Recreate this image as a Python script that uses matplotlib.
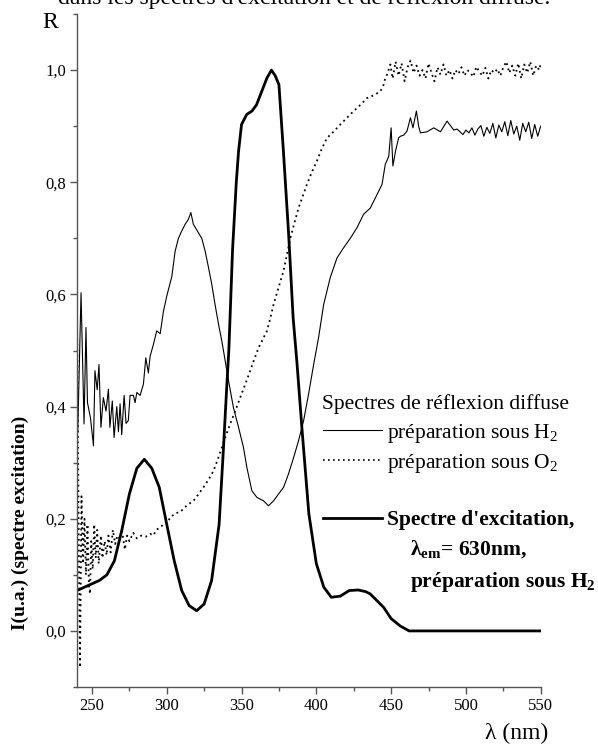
import matplotlib
matplotlib.use("Agg")
import matplotlib.pyplot as plt
from matplotlib.lines import Line2D
from matplotlib.ticker import MultipleLocator, FuncFormatter

plt.rcParams["font.family"] = ["Liberation Serif", "DejaVu Serif"]
plt.rcParams["mathtext.fontset"] = "custom"
plt.rcParams["mathtext.rm"] = "Liberation Serif"
plt.rcParams["mathtext.bf"] = "Liberation Serif:bold"
plt.rcParams["mathtext.it"] = "Liberation Serif:italic"

# ---- données ----
# spectre d'excitation (lambda_em = 630 nm), trait épais
exc_x = [240, 245, 250, 255, 260, 265, 270, 275, 280, 285, 290, 295, 300, 305,
         310, 315, 320, 325, 330, 335, 338, 340, 341.5, 344, 346.5, 348, 350,
         353.5, 357, 360, 363.5, 367, 370, 372.5, 375, 378, 381.5, 384.5, 387,
         390.5, 395, 400, 405, 410, 416, 422, 428, 433, 436, 445, 450, 456, 462,
         470, 480, 490, 500, 510, 520, 530, 540, 550]
exc_y = [0.072, 0.078, 0.084, 0.09, 0.10, 0.125, 0.18, 0.244, 0.29, 0.306, 0.29,
         0.256, 0.19, 0.125, 0.072, 0.045, 0.036, 0.048, 0.09, 0.19, 0.33, 0.43,
         0.5, 0.68, 0.80, 0.855, 0.903, 0.921, 0.927, 0.938, 0.962, 0.986, 1.0,
         0.99, 0.974, 0.855, 0.707, 0.558, 0.48, 0.357, 0.209, 0.12, 0.078, 0.06,
         0.062, 0.072, 0.073, 0.07, 0.066, 0.042, 0.022, 0.009, 0.0, 0.0, 0.0,
         0.0, 0.0, 0.0, 0.0, 0.0, 0.0, 0.0]

# réflexion diffuse, préparation sous H2 (trait fin)
h2_x = [240, 240.5, 242.7, 244.7, 246, 247, 249, 251, 252, 253.5, 254.7, 256,
        257.6, 259.4, 261, 262, 263.6, 264.8, 266.6, 267.7, 268.8, 269.9, 271.5,
        272.8, 274.3, 275.5, 277.7, 278.8, 280, 282.2, 284.4, 286, 287.7, 288.9,
        291, 293.3, 295.6, 297.8, 300, 303.4, 305.6, 307.8, 310, 312.3, 314.5,
        316.1, 317.8, 321.2, 323.4, 325.7, 327.9, 330.1, 332.3, 334.6, 336.8,
        337.9, 341.3, 344.6, 348, 351.3, 353.6, 356.9, 360.3, 364.7, 368, 371.4,
        374.7, 378.1, 381.4, 384.8, 388.1, 391.5, 394.8, 398.2, 401.5, 404.9,
        409.3, 413.8, 418.2, 422.7, 427.2, 431.6, 436.1, 440.6, 443.9, 446.1,
        448.4, 450, 451.2, 452.9, 455, 456.2, 458.4, 460.6, 462.9, 464.6, 466.9,
        468.4, 469.6, 474, 478.5, 483, 487.4, 491.9, 494, 496, 498, 500, 502,
        504, 506, 508, 510, 512, 514, 516, 518, 520, 522, 524, 526, 528, 530,
        532, 534, 536, 538, 540, 542, 544, 546, 548, 550]
h2_y = [0.565, 0.354, 0.603, 0.369, 0.541, 0.407, 0.38, 0.33, 0.464, 0.43, 0.475,
        0.363, 0.416, 0.392, 0.431, 0.363, 0.41, 0.345, 0.40, 0.355, 0.405, 0.35,
        0.42, 0.37, 0.375, 0.42, 0.42, 0.407, 0.425, 0.42, 0.44, 0.487, 0.46,
        0.49, 0.51, 0.535, 0.53, 0.57, 0.597, 0.632, 0.677, 0.70, 0.713, 0.725,
        0.734, 0.746, 0.725, 0.71, 0.70, 0.677, 0.648, 0.618, 0.582, 0.547, 0.517,
        0.50, 0.446, 0.398, 0.363, 0.327, 0.291, 0.25, 0.238, 0.232, 0.223, 0.232,
        0.244, 0.256, 0.28, 0.309, 0.339, 0.375, 0.422, 0.475, 0.523, 0.582,
        0.63, 0.665, 0.683, 0.70, 0.719, 0.743, 0.754, 0.778, 0.796, 0.832,
        0.846, 0.897, 0.829, 0.855, 0.879, 0.882, 0.884, 0.891, 0.915, 0.897,
        0.927, 0.90, 0.888, 0.89, 0.897, 0.89, 0.909, 0.893, 0.895, 0.89, 0.885,
        0.893, 0.888, 0.897, 0.884, 0.895, 0.901, 0.882, 0.898, 0.887, 0.905,
        0.879, 0.902, 0.89, 0.908, 0.883, 0.91, 0.886, 0.90, 0.875, 0.905, 0.89,
        0.907, 0.878, 0.903, 0.882, 0.90]

# réflexion diffuse, préparation sous O2 (pointillés)
o2_x = [240, 241, 242, 243, 244, 245, 246, 247, 248, 248.7, 249.5, 250.5, 251.5,
        252.5, 253.5, 254.5, 256, 257, 258.5, 259.8, 261, 262.5, 264, 265.5,
        267, 268.5, 270, 272, 273.5, 275, 277.6, 280, 283, 286, 289, 291, 293,
        295.6, 298, 300, 302.2, 306, 309, 311.2, 314, 317.9, 321, 324.5, 328,
        331.2, 334, 336.8, 339.5, 342.4, 345.8, 349.1, 352.5, 355.8, 358.6,
        361.4, 364.2, 367, 369, 371.4, 374.7, 378.1, 380.3, 382.6, 385.3, 388.1,
        391, 393.7, 397, 400.4, 403.7, 407.1, 411.5, 416, 420.5, 425, 429.5,
        433.9, 438.3, 442.8, 445, 446.1, 447.3, 449.5, 451, 453, 455, 457, 459,
        461, 463, 465, 467, 469, 471, 473, 475, 477, 479, 481, 483, 485, 487,
        489, 491, 493, 495, 497, 499, 501, 503, 505, 507, 509, 511, 513, 515,
        517, 519, 521, 523, 525, 527, 529, 531, 533, 535, 537, 539, 541, 543,
        545, 547, 549, 550]
o2_y = [0.56, 0.22, -0.065, 0.24, 0.12, 0.20, 0.10, 0.19, 0.08, 0.066, 0.16,
        0.11, 0.19, 0.13, 0.18, 0.12, 0.17, 0.13, 0.16, 0.135, 0.17, 0.14, 0.18,
        0.155, 0.17, 0.165, 0.18, 0.145, 0.17, 0.16, 0.175, 0.165, 0.17, 0.168,
        0.173, 0.17, 0.18, 0.185, 0.19, 0.19, 0.202, 0.21, 0.212, 0.218, 0.225,
        0.232, 0.243, 0.256, 0.27, 0.285, 0.305, 0.327, 0.348, 0.369, 0.392,
        0.416, 0.44, 0.464, 0.485, 0.505, 0.52, 0.535, 0.555, 0.582, 0.612,
        0.642, 0.67, 0.70, 0.727, 0.754, 0.776, 0.796, 0.818, 0.838, 0.86, 0.879,
        0.89, 0.903, 0.915, 0.927, 0.938, 0.95, 0.955, 0.962, 0.974, 0.986,
        0.992, 1.01, 0.985, 1.015, 0.99, 1.012, 0.98, 1.005, 1.017, 0.995, 1.008,
        0.99, 1.0, 0.985, 1.012, 0.995, 0.98, 1.005, 0.992, 1.01, 0.99, 1.0,
        0.985, 1.0, 0.993, 1.005, 0.99, 1.0, 0.995, 0.988, 1.006, 0.997, 0.99,
        1.004, 0.985, 1.0, 0.995, 1.002, 0.99, 1.005, 1.015, 0.995, 1.008, 0.99,
        1.012, 0.985, 1.01, 0.995, 1.015, 0.99, 1.008, 1.0, 1.012]

W, H = 598, 744
def fx(px):
    return px / W
def fy(py):
    return 1 - py / H

fig = plt.figure(figsize=(W / 100, H / 100), dpi=100)
ax = fig.add_axes([fx(77), fy(687), fx(540.7) - fx(77), fy(14) - fy(687)])

ax.plot(h2_x, h2_y, color="black", lw=0.8)
ax.plot(o2_x, o2_y, color="black", lw=1.3, ls=(0, (1, 2)))
ax.plot(exc_x, exc_y, color="black", lw=2.0)

ax.set_xlim(240, 550)
ax.set_ylim(-0.1, 1.1)
ax.xaxis.set_major_locator(MultipleLocator(50))
ax.xaxis.set_minor_locator(MultipleLocator(25))
ax.yaxis.set_major_locator(MultipleLocator(0.2))
ax.yaxis.set_minor_locator(MultipleLocator(0.1))
ax.yaxis.set_major_formatter(FuncFormatter(lambda v, p: f"{v:.1f}".replace(".", ",").replace("-0,0", "0,0")))
for s in ("top", "right"):
    ax.spines[s].set_visible(False)
for s in ("left", "bottom"):
    ax.spines[s].set_color("#555555")
    ax.spines[s].set_linewidth(1.0)
ax.tick_params(which="major", direction="out", length=5, width=1, color="#555555",
               labelsize=12, pad=3)
ax.tick_params(which="minor", direction="out", length=3, width=1, color="#555555")

# titre coupé en haut (comme dans l'original)
fig.text(fx(304), fy(4), "dans les spectres d'excitation et de réflexion diffuse.",
         ha="center", va="baseline", fontsize=17)
fig.text(fx(50), fy(28), "R", ha="center", va="baseline", fontsize=17)
fig.text(fx(20), fy(523), "I(u.a.) (spectre excitation)", rotation=90,
         ha="center", va="center", fontsize=14, fontweight="bold")
fig.text(fx(548), fy(739), "λ (nm)", ha="right", va="baseline", fontsize=17)

# légende dessinée à la main
LEG = 15.5
fig.text(fx(322), fy(409), "Spectres de réflexion diffuse", ha="left",
         va="baseline", fontsize=LEG)
fig.add_artist(Line2D([fx(323), fx(382)], [fy(430)] * 2, color="black", lw=0.8))
fig.text(fx(387), fy(438), "préparation sous H$_2$", ha="left", va="baseline",
         fontsize=LEG)
fig.add_artist(Line2D([fx(323), fx(382)], [fy(460)] * 2, color="black", lw=1.2,
                      ls=(0, (1, 2))))
fig.text(fx(387), fy(468), "préparation sous O$_2$", ha="left", va="baseline",
         fontsize=LEG)
fig.add_artist(Line2D([fx(323), fx(382)], [fy(518)] * 2, color="black", lw=2.0))
fig.text(fx(387), fy(525), "Spectre d'excitation,", ha="left", va="baseline",
         fontsize=LEG, fontweight="bold")
fig.text(fx(410), fy(555), r"$\mathbf{λ}_{\mathbf{em}}$= 630nm,", ha="left",
         va="baseline", fontsize=LEG, fontweight="bold")
fig.text(fx(410), fy(587), r"préparation sous H$_\mathbf{2}$", ha="left",
         va="baseline", fontsize=LEG, fontweight="bold")

fig.savefig("out.png", dpi=100)
